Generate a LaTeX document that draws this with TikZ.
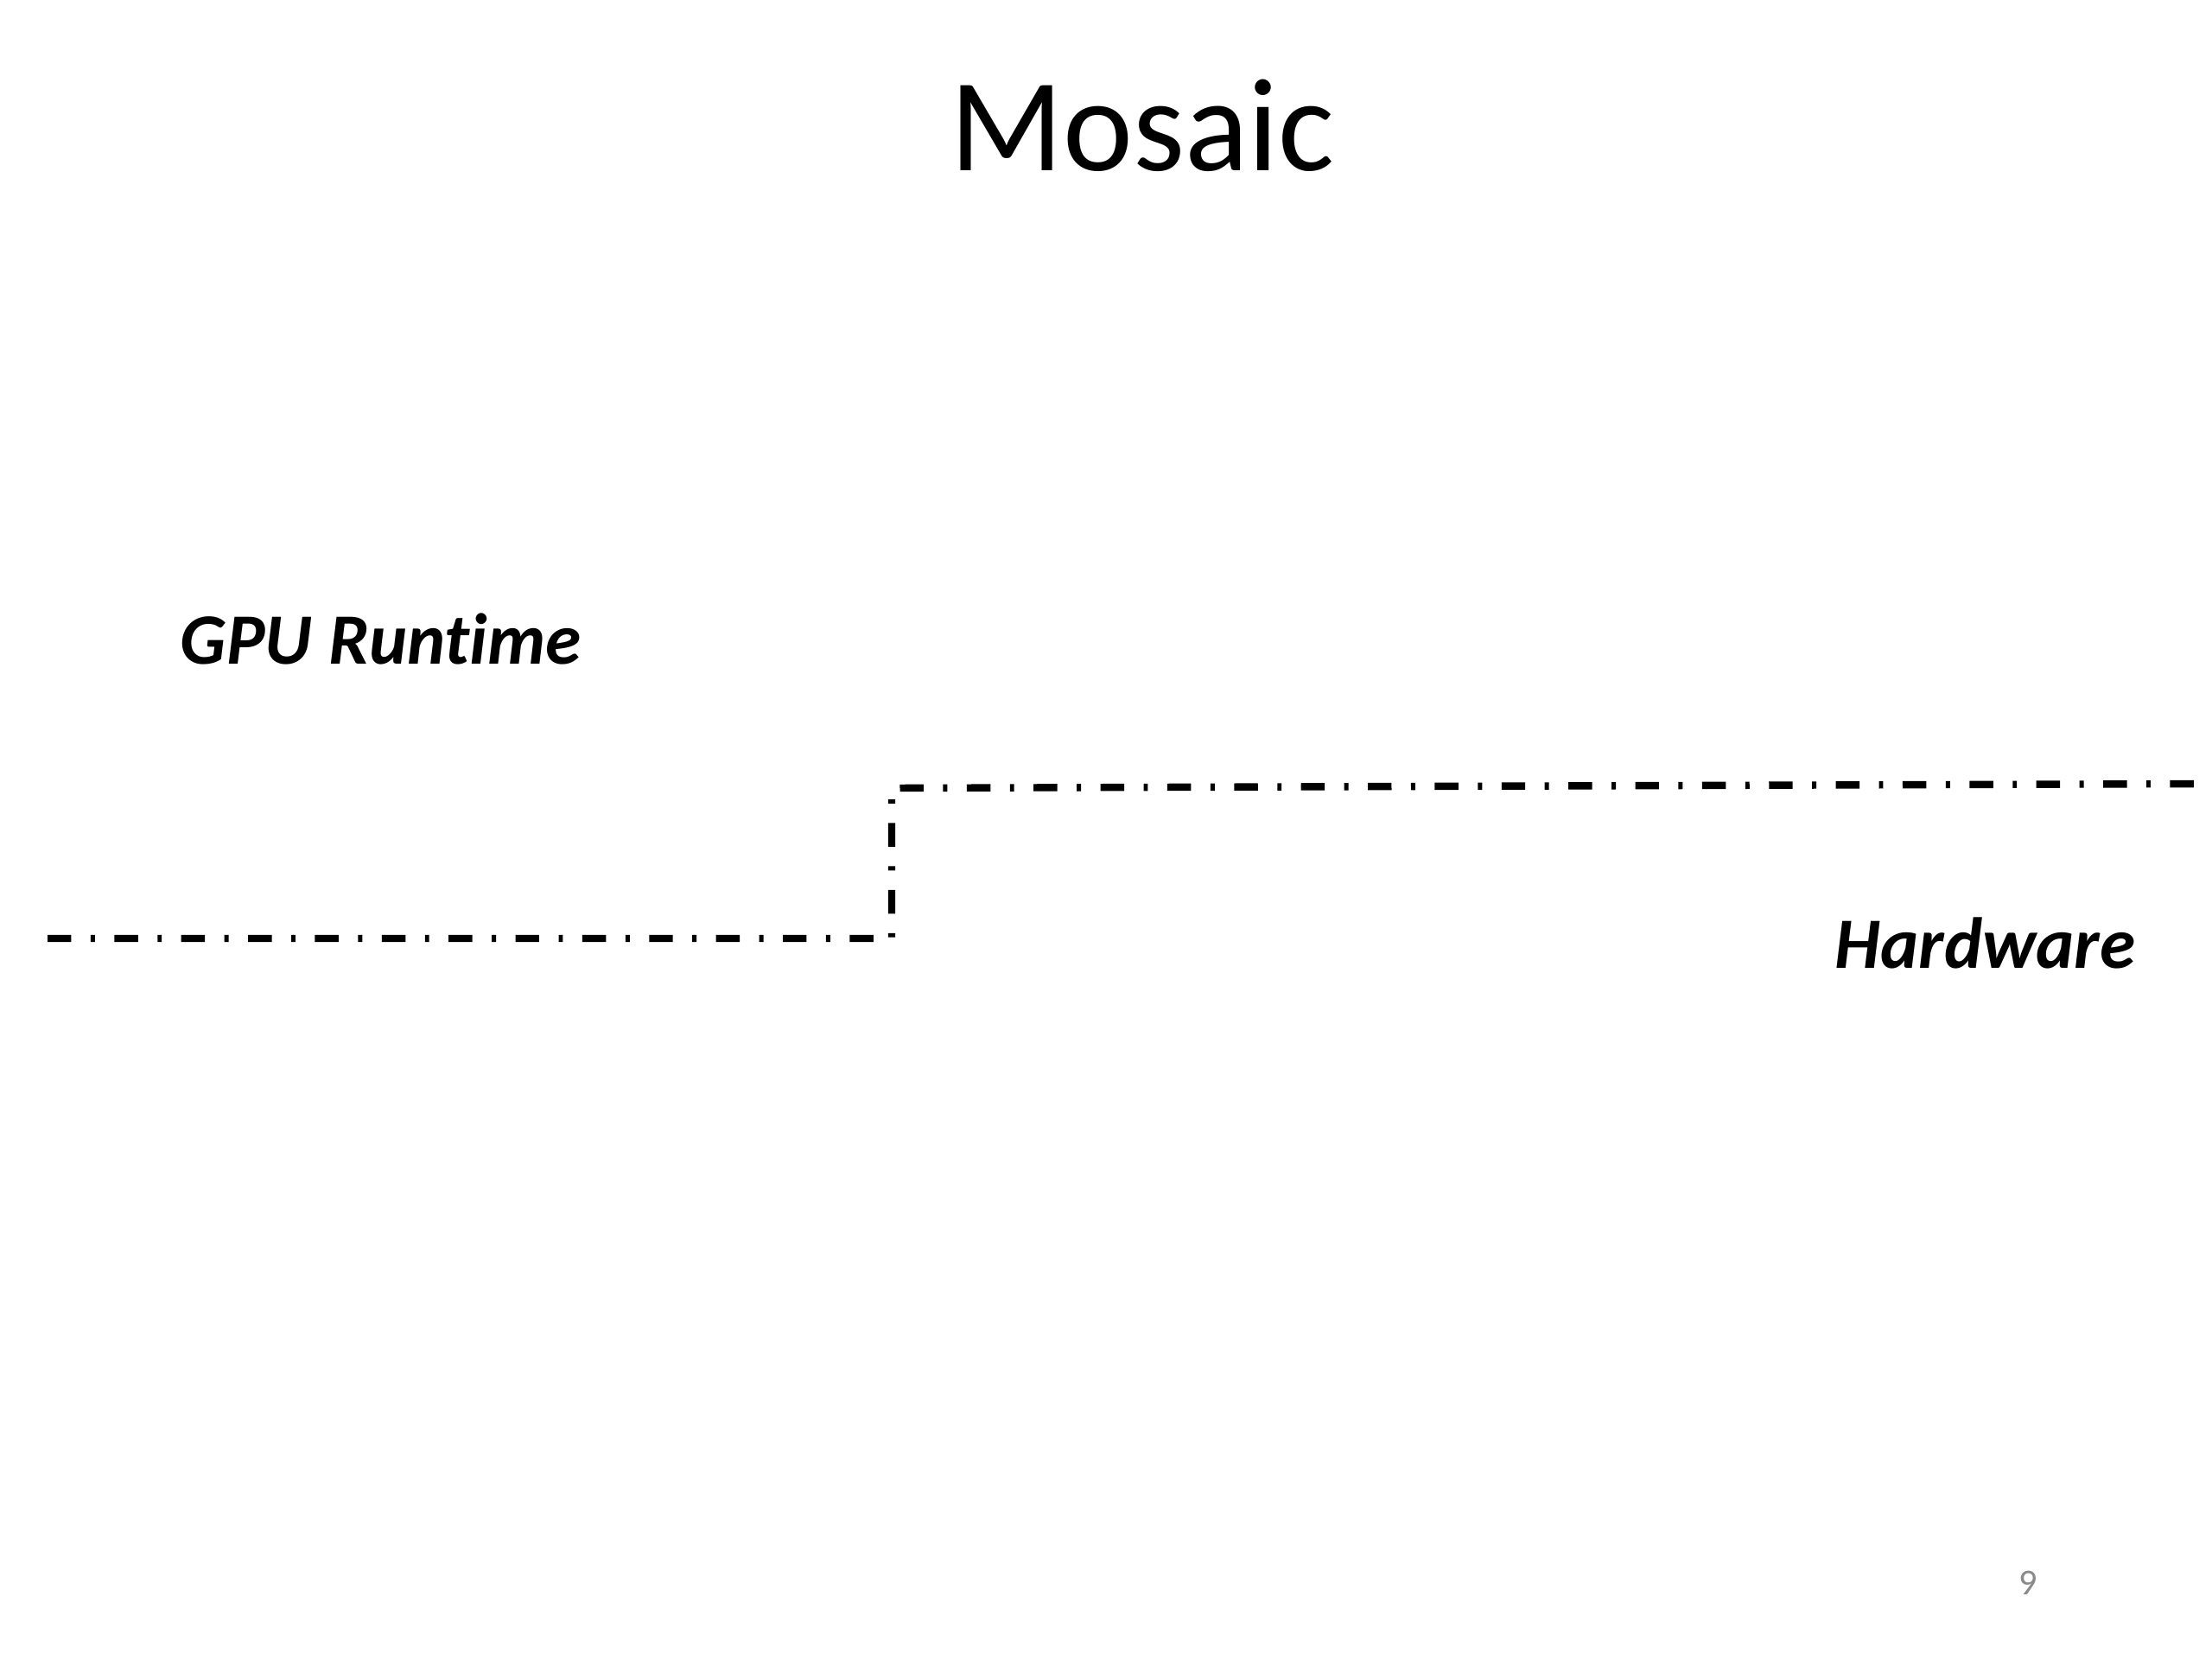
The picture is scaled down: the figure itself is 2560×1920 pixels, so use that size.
\documentclass[tikz,border=0pt]{standalone}
\usepackage{fontspec}
\setmainfont{Carlito}[Ligatures=NoCommon]
\usepackage{xcolor}
\usepackage{tikz}
\usetikzlibrary{calc}
\definecolor{ink}{HTML}{000000}
\definecolor{pagegray}{HTML}{8A8A8A}
\tikzset{
  layerLine/.style={draw=ink, line width=2.4pt, dash pattern=on 7.8pt off 6.4pt on 1.4pt off 6.4pt},
  layerLabel/.style={text=ink, font=\fontsize{23.8}{28}\selectfont\bfseries\itshape, inner sep=0pt},
  titleText/.style={text=ink, font=\fontsize{43.6}{50}\selectfont, inner sep=0pt},
  pageNum/.style={text=pagegray, font=\fontsize{12}{14}\selectfont, inner sep=0pt}
}
\begin{document}
\begin{tikzpicture}[x=0.01cm, y=-0.01cm]
  \useasboundingbox (0,0) rectangle (2560,1920);

  \coordinate (lowStart) at (55,1086);
  \coordinate (stepLow) at (1032,1086);
  \coordinate (stepHigh) at (1032,912);
  \coordinate (highEnd) at (2560,907);

  \node[titleText, anchor=base] (title) at (1322,197) {Mosaic};
  \node[layerLabel, anchor=base west] (runtime) at (208,768) {GPU Runtime};
  \node[layerLabel, anchor=base east] (hardware) at (2472,1120) {Hardware};
  \node[pageNum, anchor=base] (page) at (2347,1845) {9};

  \draw[layerLine] (lowStart) -- (stepLow) -- (stepHigh) -- (highEnd);
\end{tikzpicture}
\end{document}
